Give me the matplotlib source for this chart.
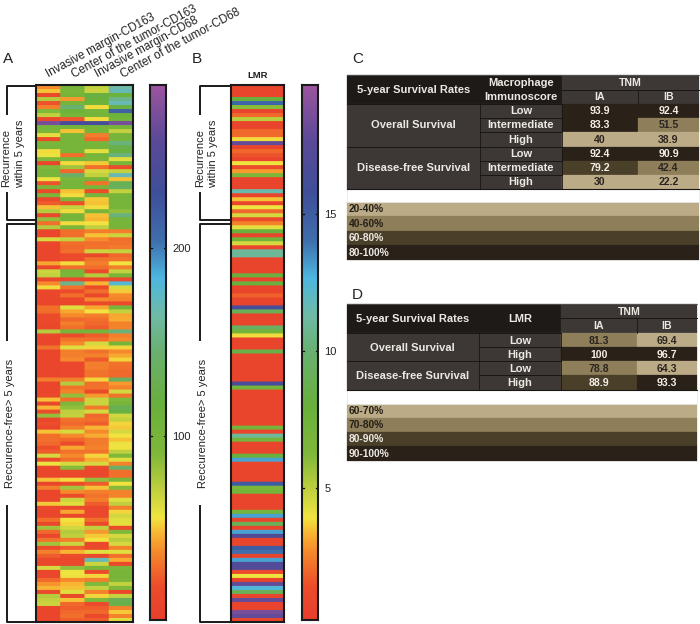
import numpy as np
import matplotlib
matplotlib.use("Agg")
import matplotlib.pyplot as plt
from matplotlib.colors import LinearSegmentedColormap
from matplotlib.patches import Rectangle

plt.rcParams['font.family'] = ['Liberation Sans', 'DejaVu Sans']

W, H = 700, 624

# ---------- data ----------
heat_labels = ["Invasive margin-CD163", "Center of the tumor-CD163",
               "Invasive margin-CD68", "Center of the tumor-CD68"]
im_cd163 = [38,50,15,75,22,35,90,72,15,270,100,95,60,18,95,100,55,58,90,12,90,100,100,58,22,95,18,95,14,25,50,75,14,85,
            30,75,12,12,65,14,12,12,12,12,45,14,68,70,15,38,55,14,12,12,12,30,30,18,18,15,15,75,14,12,12,32,12,12,
            12,12,12,12,12,35,12,12,12,15,50,15,48,20,85,12,20,12,50,30,30,28,20,25,65,18,58,12,12,12,50,12,35,12,
            12,12,52,14,12,12,30,12,80,28,12,32,80,18,35,25,12,12,65,12,12,28,40,48,18,75,70,68,12,12,12,12]
ct_cd163 = [100,95,100,42,100,145,110,100,24,240,100,50,100,100,100,100,100,30,100,55,80,28,140,95,100,100,50,55,95,20,70,55,100,100,
            55,95,30,30,70,30,28,30,18,18,55,30,100,95,14,155,32,18,30,14,14,62,45,38,28,35,30,100,18,32,38,62,35,35,
            38,14,14,14,14,35,75,32,36,85,30,90,85,72,70,32,28,35,65,38,28,18,45,32,38,30,65,88,16,14,55,18,80,38,
            18,68,62,14,45,15,56,54,66,75,72,35,68,25,48,18,14,14,85,57,58,38,48,50,62,15,50,28,25,28,30,25]
im_cd68 = [70,68,120,115,110,55,100,100,55,240,100,100,35,28,100,100,60,100,98,52,30,65,70,100,32,100,20,100,52,50,55,100,50,48,
           56,72,35,50,38,30,32,68,14,32,35,30,18,75,15,48,18,30,14,38,16,45,56,35,30,28,25,100,25,30,65,54,32,36,
           24,35,35,32,32,54,30,32,16,42,68,68,34,65,28,30,25,48,38,46,34,34,36,32,54,46,65,16,14,15,85,25,50,35,
           32,35,25,14,14,14,30,16,72,42,52,56,14,16,62,16,170,68,95,18,54,35,90,70,36,54,90,18,25,28,16,25]
ct_cd68 = [165,170,110,155,170,120,215,110,105,270,100,70,100,100,150,125,120,150,62,100,18,70,170,50,130,135,70,100,100,100,100,85,150,100,
           100,100,35,68,30,32,34,70,28,32,56,35,70,100,16,180,65,52,38,36,16,100,70,45,46,36,36,150,35,38,100,54,38,45,
           54,32,30,28,28,135,42,36,66,32,90,100,130,120,66,70,54,52,65,56,50,58,56,72,90,62,36,140,30,30,95,56,88,36,
           36,62,72,35,54,66,62,60,18,90,65,74,65,36,62,30,46,16,95,100,100,95,70,90,16,70,130,125,36,52,36,62]
lmr = [.8,.8,.8,8,14.5,6,.8,2,5,.8,.8,2,2,3.8,18,.8,2,1.5,.8,4,1.2,3,6.5,.8,.8,.8,11.5,.8,3.5,.8,4,2,4.5,1.2,
       2.5,4.2,8,.8,7.5,4.5,.8,11,11,.8,.8,.8,.8,8,.8,8,.8,.8,1.8,.8,.8,16.5,9,.8,.8,.8,9.5,7,3.8,.8,.8,.8,8.5,.8,
       .8,.8,.8,.8,.8,.8,16.5,7,.8,.8,.8,.8,.8,.8,.8,.8,.8,7,.8,11,7,.8,.8,.8,8,13,.8,.8,.8,.8,.8,15,6.5,7,
       .8,.8,.8,.8,7,13,.8,9,.8,13,17,.8,.8,15,14,.8,13,17,17,1,4,.8,18,12.5,9,.8,18,.8,.8,18.5,18,.8]
cbar_a_range = (2, 287)
cbar_b_range = (0.2, 19.7)
cbar_a_ticks = [100, 200]
cbar_b_ticks = [5, 10, 15]

# table C
c_groups = ["Overall Survival", "Disease-free Survival"]
c_levels = ["Low", "Intermediate", "High"]
c_ia = ["93.9", "83.3", "40", "92.4", "79.2", "30"]
c_ib = ["92.4", "51.5", "38.9", "90.9", "42.4", "22.2"]
c_ia_band = [3, 3, 0, 3, 2, 0]
c_ib_band = [3, 1, 0, 3, 1, 0]
c_legend = ["20-40%", "40-60%", "60-80%", "80-100%"]
# table D
d_groups = ["Overall Survival", "Disease-free Survival"]
d_levels = ["Low", "High", "Low", "High"]
d_ia = ["81.3", "100", "78.8", "88.9"]
d_ib = ["69.4", "96.7", "64.3", "93.3"]
d_ia_band = [1, 3, 1, 2]
d_ib_band = [0, 3, 0, 3]
d_legend = ["60-70%", "70-80%", "80-90%", "90-100%"]

# ---------- style ----------
cmap = LinearSegmentedColormap.from_list("rb", [
    (0.00, "#e8402e"), (0.06, "#ec4c2b"), (0.125, "#f5892c"), (0.16, "#f8b433"), (0.19, "#f1e540"),
    (0.25, "#b9cd3e"), (0.31, "#7fb83a"), (0.40, "#69b13c"), (0.50, "#69b070"),
    (0.57, "#6fbba6"), (0.64, "#4db7e0"), (0.71, "#3f6fad"), (0.80, "#3f4f9a"),
    (0.90, "#5c4a98"), (1.00, "#9c559f")])
BANDS = ["#bcab87", "#8e7f5a", "#4a4029", "#2a2219"]
BAND_TXT = ["#2a2520", "#2a2520", "#f2eee6", "#f2eee6"]
HDR = "#1e1a17"
MID = "#3d3835"
LIGHT = "#ece8e2"

fig = plt.figure(figsize=(W / 100, H / 100), dpi=100)


def px_axes(x0, y0, x1, y1):
    return fig.add_axes([x0 / W, 1 - y1 / H, (x1 - x0) / W, (y1 - y0) / H])


def frame(ax, lw=1.5):
    ax.set_xticks([]); ax.set_yticks([])
    for s in ax.spines.values():
        s.set_linewidth(lw); s.set_color("#1a1a1a")


def heat(ax, arr, rng):
    # each value is kept as a flat block; only the block edges are softened
    arr = np.repeat(np.repeat(np.asarray(arr, float), 4, axis=0), 24, axis=1)
    ax.imshow(arr, aspect="auto", cmap=cmap, vmin=rng[0], vmax=rng[1],
              interpolation="bilinear", interpolation_stage="rgba")
    frame(ax)


heat(px_axes(36, 85, 133, 622), np.array([im_cd163, ct_cd163, im_cd68, ct_cd68]).T, cbar_a_range)
heat(px_axes(231, 85, 284, 622), np.array(lmr)[:, None], cbar_b_range)


# colour bars
def colorbar(x0, x1, rng, ticks):
    ax = px_axes(x0, 85, x1, 620)
    grad = np.linspace(rng[1], rng[0], 256)[:, None]
    ax.imshow(grad, aspect="auto", cmap=cmap, vmin=rng[0], vmax=rng[1],
              extent=[0, 1, rng[0], rng[1]])
    frame(ax)
    ax.yaxis.tick_right()
    ax.set_yticks(ticks)
    ax.set_yticklabels([str(t) for t in ticks], fontsize=8, color="#222222")
    ax.tick_params(axis="y", length=0, pad=4.5)
    for t in ticks:
        ax.plot([0, 0.13], [t, t], color="#111111", lw=0.9)
        ax.plot([0.87, 1], [t, t], color="#111111", lw=0.9)
    ax.set_xlim(0, 1)
    ax.set_ylim(*rng)


colorbar(149.5, 166, cbar_a_range, cbar_a_ticks)
colorbar(301.5, 318, cbar_b_range, cbar_b_ticks)

# overlay in pixel coordinates
ov = fig.add_axes([0, 0, 1, 1], zorder=5)
ov.set_xlim(0, W); ov.set_ylim(H, 0); ov.axis("off"); ov.patch.set_alpha(0)

# panel letters
for s, x, y in [("A", 3, 63), ("B", 192, 63), ("C", 352, 63), ("D", 352, 299)]:
    ov.text(x, y, s, fontsize=11, color="#222222", ha="left", va="baseline")

# rotated heading
for s, x in zip(heat_labels, [49, 74, 98, 123]):
    ov.text(x, 77.5, s, rotation=28.5, rotation_mode="anchor", ha="left", va="baseline",
            fontsize=8.4, color="#222222")
ov.text(258, 75, "LMR", fontsize=6.8, fontweight="bold", ha="center", va="center", color="#222222")


# brackets
def bracket(x, xr, dx_text):
    k = dict(color="#1a1a1a", lw=1.4, solid_capstyle="butt")
    ov.plot([xr, x, x], [85.5, 85.5, 115], **k)
    ov.plot([x, x, xr], [192, 220, 220], **k)
    ov.plot([xr, x, x], [223.5, 223.5, 341], **k)
    ov.plot([x, x, xr], [505, 621.5, 621.5], **k)
    ov.text(x - 1 + dx_text[0], 158, "Recurrence", rotation=90, fontsize=8, ha="center", va="center", color="#222222")
    ov.text(x + dx_text[1], 154, "within 5 years", rotation=90, fontsize=8, ha="center", va="center", color="#222222")
    ov.text(x + dx_text[2], 423, "Reccurence-free> 5 years", rotation=90, fontsize=8, ha="center", va="center", color="#222222")


bracket(7, 36, (0, 13, 3.5))
bracket(200, 231, (1, 13, 3.5))


def cell(x0, x1, y0, y1, c, txt=None, tc=LIGHT, fs=7.6, bold=True):
    ov.add_patch(Rectangle((x0, y0), x1 - x0, y1 - y0, facecolor=c, edgecolor=c, lw=0.2))
    if txt:
        ov.text((x0 + x1) / 2, (y0 + y1) / 2 + 0.3, txt, color=tc, fontsize=fs,
                fontweight="bold" if bold else "normal", ha="center", va="center")


def table(xs, ys, second_hdr, levels, groups, spans, ia, ib, ia_b, ib_b, legend, lys):
    cell(xs[0], xs[1], ys[0], ys[2], HDR, "5-year Survival Rates", fs=8)
    cell(xs[1], xs[2], ys[0], ys[2], HDR)
    if len(second_hdr) == 2:
        ov.text((xs[1] + xs[2]) / 2, (ys[0] + ys[1]) / 2 + 1, second_hdr[0], color=LIGHT, fontsize=8,
                fontweight="bold", ha="center", va="center")
        ov.text((xs[1] + xs[2]) / 2, (ys[1] + ys[2]) / 2 + 1, second_hdr[1], color=LIGHT, fontsize=8,
                fontweight="bold", ha="center", va="center")
    else:
        ov.text((xs[1] + xs[2]) / 2, (ys[0] + ys[2]) / 2, second_hdr[0], color=LIGHT, fontsize=8,
                fontweight="bold", ha="center", va="center")
    cell(xs[2], xs[4], ys[0], ys[1], MID, "TNM")
    cell(xs[2], xs[3], ys[1], ys[2], MID, "IA")
    cell(xs[3], xs[4], ys[1], ys[2], MID, "IB")
    r = 2
    for g, n in zip(groups, spans):
        cell(xs[0], xs[1], ys[r], ys[r + n], MID, g, fs=8)
        ov.plot([xs[0], xs[1]], [ys[r], ys[r]], color="#191613", lw=0.7)
        r += n
    for i, lv in enumerate(levels):
        y0, y1 = ys[i + 2], ys[i + 3]
        cell(xs[1], xs[2], y0, y1, MID, lv, fs=8)
        cell(xs[2], xs[3], y0, y1, BANDS[ia_b[i]], ia[i], BAND_TXT[ia_b[i]])
        cell(xs[3], xs[4], y0, y1, BANDS[ib_b[i]], ib[i], BAND_TXT[ib_b[i]])
    # separators
    for y in ys[2:]:
        ov.plot([xs[1], xs[2]], [y, y], color="#191613", lw=0.7)
    ov.plot([xs[2], xs[4]], [ys[1], ys[1]], color="#191613", lw=0.7)
    for x in xs[1:3]:
        ov.plot([x, x], [ys[2], ys[-1]], color="#191613", lw=0.6)
    ov.plot([xs[3], xs[3]], [ys[1], ys[2]], color="#191613", lw=0.6)
    ov.plot([xs[0], xs[4]], [ys[-1], ys[-1]], color="#191613", lw=0.8)
    ov.plot([xs[0], xs[4]], [ys[0], ys[0]], color="#555555", lw=0.6)
    # colour key
    for i, s in enumerate(legend):
        ov.add_patch(Rectangle((xs[0], lys[i]), xs[4] - xs[0], lys[i + 1] - lys[i],
                               facecolor=BANDS[i], edgecolor=BANDS[i], lw=0.2))
        ov.text(xs[0] + 2, (lys[i] + lys[i + 1]) / 2 + 0.3, s, fontsize=7.4, fontweight="bold",
                color="#241f18" if i < 2 else LIGHT, ha="left", va="center")
    ov.add_patch(Rectangle((xs[0], ys[-1] + 0.5), xs[4] - xs[0], lys[0] - ys[-1] - 0.5,
                           facecolor="white", edgecolor="#e6e6e6", lw=0.5))


table([347, 480, 562, 638, 699],
      [75, 89.5, 103.5, 117.7, 132, 146.7, 160.7, 174.7, 188.7],
      ["Macrophage", "Immunoscore"], c_levels * 2, c_groups, [3, 3],
      c_ia, c_ib, c_ia_band, c_ib_band, c_legend, [202, 216.3, 230.6, 245, 259.5])
table([346.7, 479, 560.7, 636.7, 697],
      [304.3, 318.3, 333.3, 347.3, 361.3, 375.3, 389.7],
      ["LMR"], d_levels, d_groups, [2, 2],
      d_ia, d_ib, d_ia_band, d_ib_band, d_legend, [403.7, 417.7, 432, 446.3, 460.7])

fig.savefig("out.png", dpi=100)
